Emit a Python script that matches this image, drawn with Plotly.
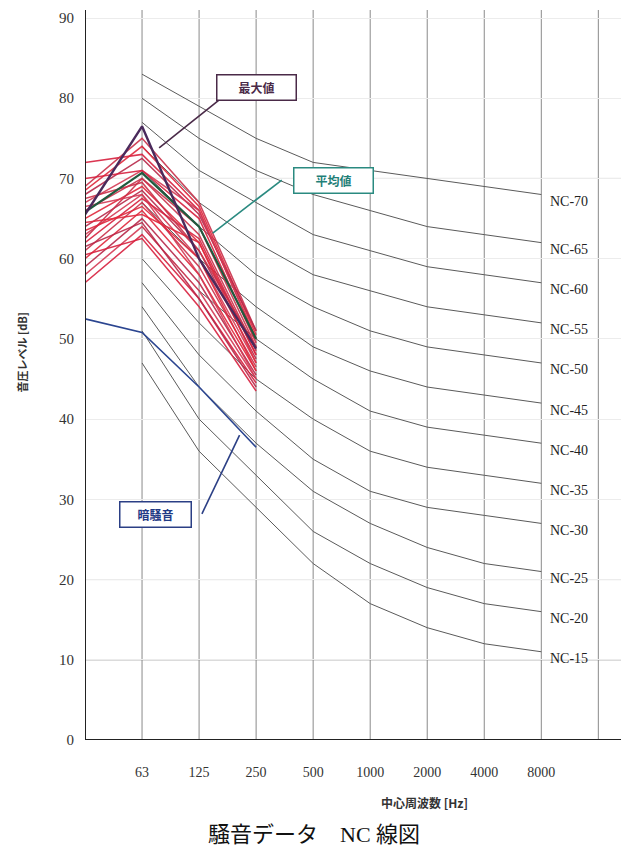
import plotly.graph_objects as go

# ---------------- data ----------------
freq_labels = ["31.5", "63", "125", "250", "500", "1000", "2000", "4000", "8000"]
tick_labels = ["63", "125", "250", "500", "1000", "2000", "4000", "8000"]

nc_names = ["NC-15", "NC-20", "NC-25", "NC-30", "NC-35", "NC-40",
            "NC-45", "NC-50", "NC-55", "NC-60", "NC-65", "NC-70"]
nc_15 = [47, 36, 29, 22, 17, 14, 12, 11]
nc_20 = [51, 40, 33, 26, 22, 19, 17, 16]
nc_25 = [54, 44, 37, 31, 27, 24, 22, 21]
nc_30 = [57, 48, 41, 35, 31, 29, 28, 27]
nc_35 = [60, 52, 45, 40, 36, 34, 33, 32]
nc_40 = [64, 56, 50, 45, 41, 39, 38, 37]
nc_45 = [67, 60, 54, 49, 46, 44, 43, 42]
nc_50 = [71, 64, 58, 54, 51, 49, 48, 47]
nc_55 = [74, 67, 62, 58, 56, 54, 53, 52]
nc_60 = [77, 71, 67, 63, 61, 59, 58, 57]
nc_65 = [80, 75, 71, 68, 66, 64, 63, 62]
nc_70 = [83, 79, 75, 72, 71, 70, 69, 68]
nc_curves = [nc_15, nc_20, nc_25, nc_30, nc_35, nc_40,
             nc_45, nc_50, nc_55, nc_60, nc_65, nc_70]

# measured spectra (31.5, 63, 125, 250 Hz)
measured = [
    [72.0, 73.0, 66.0, 50.0],
    [69.0, 75.0, 67.0, 51.0],
    [68.5, 74.0, 66.5, 50.5],
    [68.0, 72.5, 65.5, 51.0],
    [67.0, 71.0, 66.0, 50.0],
    [70.0, 71.0, 65.0, 49.5],
    [66.0, 70.0, 64.0, 49.0],
    [65.0, 69.0, 62.0, 48.0],
    [64.0, 68.5, 61.0, 47.5],
    [63.0, 68.0, 60.0, 47.0],
    [62.0, 67.5, 62.5, 48.0],
    [61.0, 67.0, 59.0, 46.5],
    [60.0, 66.0, 58.0, 46.0],
    [59.0, 65.0, 57.0, 45.5],
    [58.0, 64.0, 56.0, 45.0],
    [57.0, 63.0, 55.0, 44.5],
    [62.5, 70.0, 63.0, 48.5],
    [64.5, 65.5, 62.0, 47.0],
    [61.5, 64.5, 55.0, 44.0],
    [66.5, 68.0, 58.0, 45.0],
    [60.5, 62.5, 54.0, 43.5],
    [67.5, 69.5, 61.0, 49.0],
    [63.5, 66.5, 60.0, 46.0],
]
max_values = [65.5, 76.5, 60.0, 48.8]
mean_values = [65.8, 70.7, 64.0, 50.0]
background = [52.5, 50.8, 44.0, 36.5]

y_ticks = [0, 10, 20, 30, 40, 50, 60, 70, 80, 90]

# ---------------- figure ----------------
xpos = {f: i for i, f in enumerate(freq_labels)}
nc_x = [xpos[f] for f in freq_labels[1:]]
meas_x = [xpos[f] for f in freq_labels[:4]]

fig = go.Figure()

for name, vals in zip(nc_names, nc_curves):
    fig.add_trace(go.Scatter(x=nc_x, y=vals, mode="lines", name=name,
                             line=dict(color="#5a5a5a", width=1),
                             showlegend=False, hoverinfo="skip"))

red_shades = ["#d8213f", "#c9304a", "#e0283c", "#b8294a", "#d43a55"]
for i, vals in enumerate(measured):
    fig.add_trace(go.Scatter(x=meas_x, y=vals, mode="lines",
                             line=dict(color=red_shades[i % len(red_shades)], width=1.5),
                             opacity=0.9, showlegend=False))

fig.add_trace(go.Scatter(x=meas_x, y=background, mode="lines", name="暗騒音",
                         line=dict(color="#2b4590", width=1.6), showlegend=False))
fig.add_trace(go.Scatter(x=meas_x, y=mean_values, mode="lines", name="平均値",
                         line=dict(color="#1f5a3e", width=2.2), showlegend=False))
fig.add_trace(go.Scatter(x=meas_x, y=max_values, mode="lines", name="最大値",
                         line=dict(color="#4a2a5c", width=2.4), showlegend=False))

shapes = []
# vertical grid lines
for i in range(1, 10):
    shapes.append(dict(type="line", xref="x", yref="y", x0=i, x1=i, y0=0, y1=91,
                       line=dict(color="#8a8a8a", width=1), layer="below"))
# strong horizontal lines
for v in [10, 20, 70]:
    shapes.append(dict(type="line", xref="x", yref="y", x0=0, x1=9.52, y0=v, y1=v,
                       line=dict(color="#7a7a7a", width=1), layer="below"))
# leader lines
shapes.append(dict(type="line", xref="x", yref="y", x0=2.59, y0=81.15, x1=1.30, y1=73.8,
                   line=dict(color="#4a2a48", width=1.6)))
shapes.append(dict(type="line", xref="x", yref="y", x0=3.45, y0=69.8, x1=2.24, y1=63.2,
                   line=dict(color="#2a8a80", width=1.6)))
shapes.append(dict(type="line", xref="x", yref="y", x0=2.05, y0=28.2, x1=2.71, y1=38.0,
                   line=dict(color="#2b3f85", width=1.6)))
# axis frame lines (left and bottom)
shapes.append(dict(type="line", xref="x", yref="y", x0=0, x1=0, y0=0, y1=91,
                   line=dict(color="#222", width=2)))
shapes.append(dict(type="line", xref="x", yref="y", x0=0, x1=9.52, y0=0, y1=0,
                   line=dict(color="#222", width=2)))

annotations = []
for name, vals in zip(nc_names, nc_curves):
    annotations.append(dict(x=nc_x[-1], y=vals[-1], xref="x", yref="y", text=name,
                            showarrow=False, xanchor="left", yanchor="middle",
                            xshift=7, yshift=-7,
                            font=dict(family="Liberation Serif", size=14, color="#222")))

box_font = "Noto Sans CJK JP"
annotations.append(dict(x=3.01, y=81.3, xref="x", yref="y", text="<b>最大値</b>",
                        showarrow=False, bgcolor="white", bordercolor="#4a2a48",
                        borderwidth=1.5, borderpad=4, width=70, height=16,
                        font=dict(family=box_font, size=12, color="#4a2a48")))
annotations.append(dict(x=4.36, y=69.8, xref="x", yref="y", text="<b>平均値</b>",
                        showarrow=False, bgcolor="white", bordercolor="#2a8a80",
                        borderwidth=1.5, borderpad=4, width=70, height=16,
                        font=dict(family=box_font, size=12, color="#1f8078")))
annotations.append(dict(x=1.24, y=28.05, xref="x", yref="y", text="<b>暗騒音</b>",
                        showarrow=False, bgcolor="white", bordercolor="#2b3f85",
                        borderwidth=1.5, borderpad=4, width=62, height=16,
                        font=dict(family=box_font, size=12, color="#1f3a85")))

annotations.append(dict(x=-0.116, y=0.531, xref="paper", yref="paper",
                        xanchor="center", yanchor="middle",
                        text="<b>音圧レベル [dB]</b>", textangle=-90, showarrow=False,
                        font=dict(family=box_font, size=11, color="#333")))
annotations.append(dict(x=0.626, y=-0.0863, xref="paper", yref="paper",
                        xanchor="center", yanchor="middle",
                        text="<b>中心周波数 [Hz]</b>", showarrow=False,
                        font=dict(family=box_font, size=12, color="#333")))
annotations.append(dict(x=0.4217, y=-0.130, xref="paper", yref="paper",
                        xanchor="center", yanchor="middle",
                        text="騒音データ　NC 線図", showarrow=False,
                        font=dict(family="Liberation Serif, Noto Sans CJK JP", size=22,
                                  color="#111")))

fig.update_layout(
    width=621, height=852,
    margin=dict(l=77, r=1, t=2, b=120),
    paper_bgcolor="white", plot_bgcolor="white",
    shapes=shapes, annotations=annotations,
    showlegend=False,
    xaxis=dict(range=[0, 9.52], tickvals=list(range(1, 9)), ticktext=tick_labels,
               showgrid=False, zeroline=False, showline=False,
               ticks="", ticklabelstandoff=22,
               tickfont=dict(family="Liberation Serif", size=14, color="#333")),
    yaxis=dict(range=[0, 91], tickvals=y_ticks, showgrid=True,
               gridcolor="#ececec", gridwidth=1, zeroline=False,
               showline=False, ticks="", ticklabelstandoff=10,
               tickfont=dict(family="Liberation Serif", size=15, color="#333")),
)

fig.write_html("out.html")
